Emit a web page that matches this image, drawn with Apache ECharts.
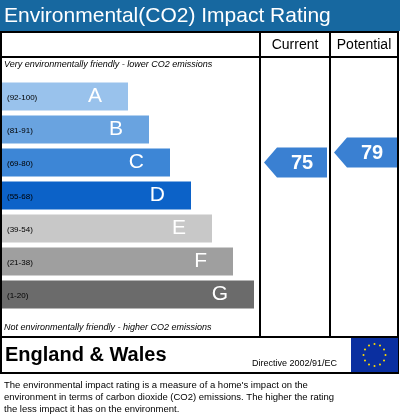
<!DOCTYPE html>
<html><head><meta charset="utf-8">
<script src="https://cdn.jsdelivr.net/npm/echarts@6/dist/echarts.min.js"></script>
<style>html,body{margin:0;padding:0;background:#fff}#c{width:400px;height:419px}</style>
</head><body><div id="c"></div>
<script>
const bands = ['A','B','C','D','E','F','G'];
const ranges = ['(92-100)','(81-91)','(69-80)','(55-68)','(39-54)','(21-38)','(1-20)'];
const barLengths = [6,7,8,9,10,11,12];
const colors = ['#99c2ec','#69a3e0','#3d86d6','#0c62c8','#c8c8c8','#9f9f9f','#6b6b6b'];
const currentRating = 75, currentBand = 'C';
const potentialRating = 79, potentialBand = 'C';
const F = 'Liberation Sans, Arial, sans-serif';
const chart = echarts.init(document.getElementById('c'));
function arrow(xl, xr, yoff){
  return function(params, api){
    const y = api.coord([0, api.value(0)])[1] + yoff;
    const h = 30, tip = 13;
    return {type:'group', children:[
      {type:'polygon', shape:{points:[[xl,y],[xl+tip,y-h/2],[xr,y-h/2],[xr,y+h/2],[xl+tip,y+h/2]]}, style:{fill:'#3a80d2'}},
      {type:'text', style:{text:String(api.value(1)), x:(xl+tip+xr)/2, y:y+1, align:'center', verticalAlign:'middle', fill:'#fff', font:'bold 20px '+F}}
    ]};
  };
}
const L = '#000';
const stars = Array.from({length:12},(_,k)=>({type:'circle', z:30, shape:{cx:374.5+11*Math.sin(k*Math.PI/6), cy:355-11*Math.cos(k*Math.PI/6), r:1}, style:{fill:'#ffdd00'}}));
chart.setOption({
  animation:false,
  grid:{left:2, top:80, width:252, height:231, outerBoundsMode:'none', containLabel:false},
  xAxis:{type:'value', min:0, max:12, show:false},
  yAxis:{type:'category', data:ranges, inverse:true, show:false},
  series:[
    {type:'bar', barWidth:28, data:barLengths.map((v,i)=>({value:v, itemStyle:{color:colors[i]}})),
     label:{show:true, position:'insideRight', distance:26, formatter:p=>bands[p.dataIndex], color:'#fff', fontSize:21, fontFamily:F}},
    {type:'custom', z:5, data:ranges.map((r,i)=>[i]), renderItem:(p,api)=>{
      const pt = api.coord([0, api.value(0)]);
      return {type:'text', style:{text:ranges[p.dataIndex], x:pt[0]+5, y:pt[1]+1, verticalAlign:'middle', fill:'#000', font:'8px '+F}};
    }},
    {type:'custom', renderItem:arrow(264,327,0), data:[[bands.indexOf(currentBand), currentRating]], z:5},
    {type:'custom', renderItem:arrow(334,397,-10), data:[[bands.indexOf(potentialBand), potentialRating]], z:5}
  ],
  graphic:[
    {type:'rect', shape:{x:0,y:0,width:400,height:31}, style:{fill:'#1768a0'}},
    {type:'text', style:{text:'Environmental(CO2) Impact Rating', x:4, y:16, verticalAlign:'middle', fill:'#fff', font:'21px '+F}},
    {type:'rect', shape:{x:1,y:32,width:397,height:341}, style:{fill:'none', stroke:L, lineWidth:2}, z:20},
    {type:'line', shape:{x1:1,y1:57,x2:398,y2:57}, style:{stroke:L,lineWidth:2}, z:20},
    {type:'line', shape:{x1:260,y1:32,x2:260,y2:337}, style:{stroke:L,lineWidth:2}, z:20},
    {type:'line', shape:{x1:330,y1:32,x2:330,y2:337}, style:{stroke:L,lineWidth:2}, z:20},
    {type:'line', shape:{x1:1,y1:337,x2:398,y2:337}, style:{stroke:L,lineWidth:2}, z:20},
    {type:'text', style:{text:'Current', x:295, y:45, align:'center', verticalAlign:'middle', fill:'#000', font:'14px '+F}},
    {type:'text', style:{text:'Potential', x:364, y:45, align:'center', verticalAlign:'middle', fill:'#000', font:'14px '+F}},
    {type:'text', style:{text:'Very environmentally friendly - lower CO2 emissions', x:4, y:64, verticalAlign:'middle', fill:'#000', font:'italic 9px '+F}},
    {type:'text', style:{text:'Not environmentally friendly - higher CO2 emissions', x:4, y:327, verticalAlign:'middle', fill:'#000', font:'italic 9px '+F}},
    {type:'text', style:{text:'England & Wales', x:5, y:355, verticalAlign:'middle', fill:'#000', font:'bold 20px '+F}},
    {type:'text', style:{text:'Directive 2002/91/EC', x:252, y:364, verticalAlign:'middle', fill:'#000', font:'9px '+F}},
    {type:'rect', shape:{x:351,y:338,width:47,height:34}, style:{fill:'#0a2fa0'}, z:21},
    ...stars,
    {type:'text', style:{text:"The environmental impact rating is a measure of a home's impact on the\nenvironment in terms of carbon dioxide (CO2) emissions. The higher the rating\nthe less impact it has on the environment.", x:4, y:379, fill:'#000', font:'9.5px '+F, lineHeight:12}}
  ]
});
</script></body></html>
